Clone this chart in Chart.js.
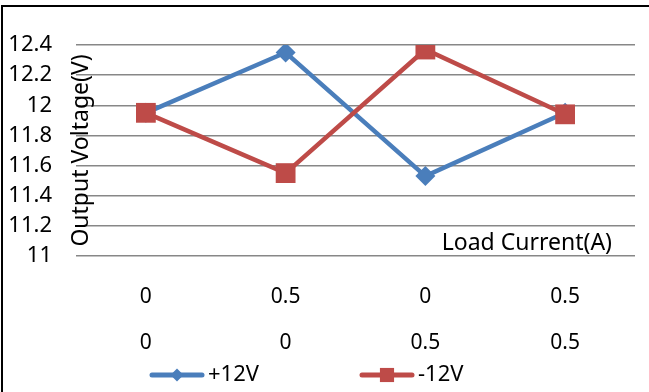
<!DOCTYPE html>
<html>
<head>
<meta charset="utf-8">
<script src="https://cdn.jsdelivr.net/npm/chart.js@4.4.0/dist/chart.umd.min.js"></script>
<style>
  html, body { margin: 0; padding: 0; background: #fff; }
  #wrap { position: relative; width: 649px; height: 392px; overflow: hidden; }
  #frame { position: absolute; left: 1px; top: 5px; width: 700px; height: 500px;
           border-top: 2px solid #000; border-left: 2px solid #000; pointer-events: none; }
</style>
</head>
<body>
<div id="wrap"><canvas id="chart"></canvas><div id="frame"></div></div>
<script>
// courant de charge (A) sur chaque sortie, une ligne par sortie
const loadPlus = ["0", "0.5", "0", "0.5"];
const loadMinus = ["0", "0", "0.5", "0.5"];
// tension de sortie (V)
const plus12 = [11.95, 12.35, 11.53, 11.95];
const minus12 = [11.95, 11.55, 12.37, 11.94];
const seriesNames = ["+12V", "-12V"];
// axe Y
const yMin = 11;
const yMax = 12.4;
const yStep = 0.2;

const labels = loadPlus.map((v, i) => [v, loadMinus[i]]);
const FONT = "'Noto Sans', 'Open Sans', sans-serif";

// titres des axes dessinés dans la zone du graphe (comme Excel)
const insideTitles = {
  id: "insideTitles",
  afterDraw(chart) {
    const { ctx, chartArea } = chart;
    ctx.save();
    ctx.font = "23px " + FONT;
    ctx.fillStyle = "#000";
    ctx.textAlign = "right";
    ctx.textBaseline = "middle";
    ctx.fillText("Load Current(A)", chartArea.right - 23, chartArea.bottom - 13);
    ctx.translate(chartArea.left + 5, (chartArea.top + chartArea.bottom) / 2);
    ctx.rotate(-Math.PI / 2);
    ctx.textAlign = "center";
    ctx.fillText("Output Voltage(V)", 0, 0);
    ctx.restore();
  }
};

// légende : trait + marqueur + texte
const legendRow = {
  id: "legendRow",
  afterDraw(chart) {
    const { ctx } = chart;
    const y = 375;
    const starts = [150, 360];
    chart.data.datasets.forEach((ds, i) => {
      const x = starts[i];
      ctx.save();
      ctx.strokeStyle = ds.borderColor;
      ctx.lineWidth = 5;
      ctx.lineCap = "round";
      ctx.beginPath();
      ctx.moveTo(x + 2, y);
      ctx.lineTo(x + 52, y);
      ctx.stroke();
      ctx.fillStyle = ds.pointBackgroundColor;
      ctx.strokeStyle = ds.pointBackgroundColor;
      Chart.helpers.drawPoint(ctx, { pointStyle: ds.pointStyle, radius: ds.legendRadius, borderWidth: 0, rotation: 0 }, x + 27, y);
      ctx.font = "22px " + FONT;
      ctx.fillStyle = "#000";
      ctx.textAlign = "left";
      ctx.textBaseline = "middle";
      ctx.fillText(ds.label, x + 58, y);
      ctx.restore();
    });
  }
};

new Chart("chart", {
  type: "line",
  data: {
    labels: labels,
    datasets: [
      {
        label: seriesNames[0],
        data: plus12,
        borderColor: "#4A7EBB",
        borderWidth: 4.5,
        pointStyle: "rectRot",
        pointRadius: 10,
        pointBackgroundColor: "#4A7EBB",
        pointBorderColor: "#4A7EBB",
        pointBorderWidth: 0,
        legendRadius: 6.5,
        tension: 0,
        order: 1,
      },
      {
        label: seriesNames[1],
        data: minus12,
        borderColor: "#BE4B48",
        borderWidth: 4.5,
        pointStyle: "rect",
        pointRadius: 14,
        pointBackgroundColor: "#BE4B48",
        pointBorderColor: "#BE4B48",
        pointBorderWidth: 0,
        legendRadius: 10,
        tension: 0,
        order: 0,
      },
    ],
  },
  options: {
    responsive: true,
    maintainAspectRatio: false,
    animation: false,
    layout: { padding: { top: 45, right: 13, left: 0, bottom: 0 } },
    plugins: {
      legend: { display: false },
      tooltip: { enabled: false },
    },
    scales: {
      x: {
        offset: true,
        grid: { display: false, drawTicks: false },
        border: { display: false },
        ticks: {
          color: "#000",
          font: { family: FONT, size: 21, lineHeight: 46 / 21 },
          padding: 18,
          maxRotation: 0,
          autoSkip: false,
        },
        afterFit(scale) { scale.height = 136; },
      },
      y: {
        min: yMin,
        max: yMax,
        grid: { color: "#878787", lineWidth: 1.5, drawTicks: false },
        border: { display: false },
        ticks: {
          stepSize: yStep,
          color: "#000",
          padding: 24,
          font: { family: FONT, size: 22 },
          callback: (v) => String(Number(v.toFixed(1))),
        },
        afterFit(scale) { scale.width = 76; },
      },
    },
  },
  plugins: [insideTitles, legendRow],
});
</script>
</body>
</html>
